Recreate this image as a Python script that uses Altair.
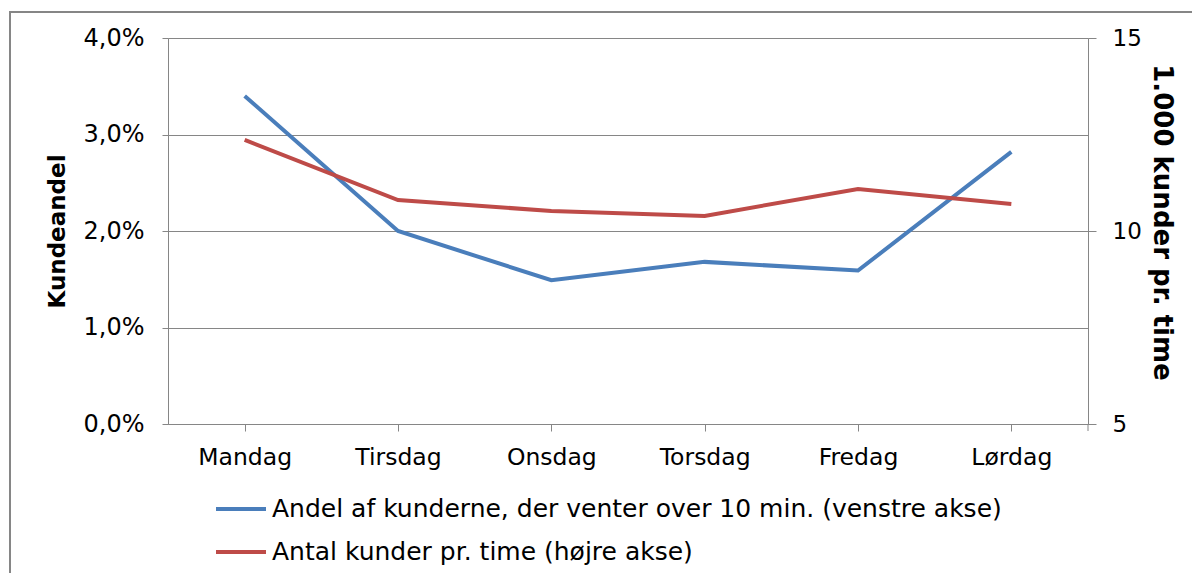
import altair as alt
import pandas as pd

days = ["Mandag", "Tirsdag", "Onsdag", "Torsdag", "Fredag", "Lørdag"]
andel = [0.0340, 0.0200, 0.0149, 0.0168, 0.0159, 0.0282]
antal = [12.36, 10.80, 10.52, 10.39, 11.09, 10.70]

name1 = "Andel af kunderne, der venter over 10 min. (venstre akse)"
name2 = "Antal kunder pr. time (højre akse)"

df = pd.DataFrame({"dag": days, "andel": andel, "antal": antal})

FONT = "DejaVu Sans"
GRAY = "#868686"

xenc = alt.X("dag:N", sort=days, title=None,
             scale=alt.Scale(paddingInner=0, paddingOuter=0),
             axis=alt.Axis(labelAngle=0, bandPosition=0, tickSize=7, labelPadding=14,
                           labelFontSize=23.5, labelFont=FONT, labelColor="black",
                           domainColor=GRAY, tickColor=GRAY, grid=False))

color_scale = alt.Scale(domain=[name1, name2], range=["#4A7EBB", "#BE4B48"])
legend = alt.Legend(title=None, orient="none", legendX=46, legendY=444,
                    direction="vertical", symbolType="stroke",
                    symbolSize=2500, symbolStrokeWidth=4,
                    labelFontSize=25, labelFont=FONT, labelColor="black",
                    labelOffset=4, rowPadding=3, labelLimit=1000)

line1 = alt.Chart(df).transform_calculate(serie=f"'{name1}'").mark_line(strokeWidth=4).encode(
    x=xenc,
    y=alt.Y("andel:Q", title="Kundeandel",
            scale=alt.Scale(domain=[0, 0.04]),
            axis=alt.Axis(values=[0, 0.01, 0.02, 0.03, 0.04], orient="left",
                          labelExpr="replace(format(datum.value, '.1%'), '.', ',')",
                          labelFontSize=24, labelFont=FONT, labelColor="black",
                          titleFontSize=23, titleFont=FONT, titleFontWeight="bold",
                          titleColor="black",
                          tickSize=6, labelPadding=18, titlePadding=14,
                          grid=True, gridColor=GRAY, domainColor=GRAY, tickColor=GRAY)),
    color=alt.Color("serie:N", scale=color_scale, legend=legend),
)

line2 = alt.Chart(df).transform_calculate(serie=f"'{name2}'").mark_line(strokeWidth=4).encode(
    x=xenc,
    y=alt.Y("antal:Q", title="1.000 kunder pr. time",
            scale=alt.Scale(domain=[5, 15]),
            axis=alt.Axis(values=[5, 10, 15], orient="right", tickSize=8,
                          labelFontSize=23, labelFont=FONT, labelColor="black",
                          titleFontSize=26, titleFont=FONT, titleFontWeight="bold",
                          titleColor="black", titleY=184,
                          labelPadding=16, titlePadding=7, grid=False,
                          domainColor=GRAY, tickColor=GRAY)),
    color=alt.Color("serie:N", scale=color_scale, legend=legend),
)

deco = pd.DataFrame({"a": [0]})
border = alt.Chart(deco).mark_rect(
    fill=None, stroke=GRAY, strokeWidth=2, clip=False
).encode(x=alt.value(-158), x2=alt.value(1200), y=alt.value(-26), y2=alt.value(700))

end_tick = alt.Chart(deco).mark_rule(color=GRAY, strokeWidth=1).encode(
    x=alt.value(920), y=alt.value(386), y2=alt.value(393))

chart = alt.layer(border, end_tick, line1, line2).resolve_scale(y="independent").properties(
    width=920, height=386,
    autosize=alt.AutoSizeParams(type="none"),
    padding={"left": 160, "top": 30, "right": 104, "bottom": 149},
).configure_view(stroke=None).configure(background="white")

chart.save("out.html", embed_options={"renderer": "svg", "actions": False})
